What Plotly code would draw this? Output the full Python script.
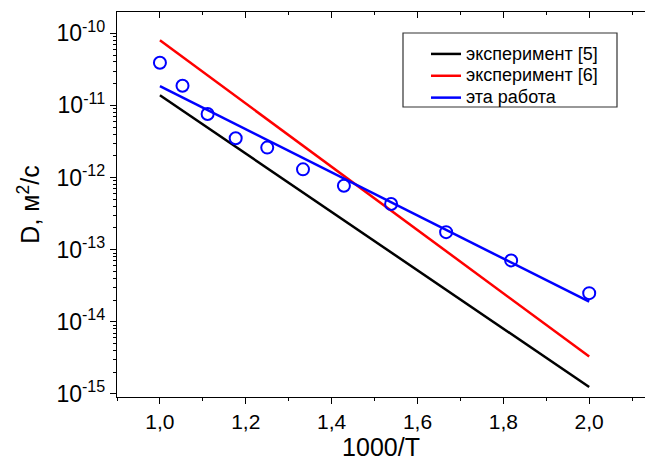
import plotly.graph_objects as go

# Data
x_line = [1.0, 2.0]
black_line = [1.38e-11, 1.25e-15]   # эксперимент [5]
red_line = [8.0e-11, 3.3e-15]       # эксперимент [6]
blue_line = [1.85e-11, 1.9e-14]     # эта работа

x_pts = [1.0, 1.0526, 1.1111, 1.1765, 1.25, 1.3333, 1.4286, 1.5385, 1.6667, 1.8182, 2.0]
y_pts = [3.9e-11, 1.87e-11, 7.6e-12, 3.5e-12, 2.6e-12, 1.3e-12, 7.7e-13, 4.3e-13, 1.75e-13, 7.1e-14, 2.5e-14]

names = ["эксперимент [5]", "эксперимент [6]", "эта работа"]
y_tickvals = [1e-15, 1e-14, 1e-13, 1e-12, 1e-11, 1e-10]
y_ticktext = ["10<sup>-15</sup>", "10<sup>-14</sup>", "10<sup>-13</sup>",
              "10<sup>-12</sup>", "10<sup>-11</sup>", "10<sup>-10</sup>"]
y_minor_vals = [m * 10.0 ** e for e in range(-16, -9) for m in range(2, 10)]

FONT = "Liberation Sans, Arial, sans-serif"
W, H = 645, 462
L, R, T, B = 117, 0, 12, 65
pw, ph = W - L - R, H - T - B
XR = [0.9, 2.13]


def lg(name):
    return '<span style="font-size:18px">' + name + '</span>'


fig = go.Figure()
fig.add_trace(go.Scatter(x=x_line, y=black_line, mode="lines", name=lg(names[0]),
                         line=dict(color="black", width=2.5)))
fig.add_trace(go.Scatter(x=x_line, y=red_line, mode="lines", name=lg(names[1]),
                         line=dict(color="#ff0000", width=2.5)))
fig.add_trace(go.Scatter(x=x_line, y=blue_line, mode="lines", name=lg(names[2]),
                         line=dict(color="#0000ff", width=2.5)))
fig.add_trace(go.Scatter(x=x_pts, y=y_pts, mode="markers", showlegend=False,
                         marker=dict(symbol="circle-open", size=12, color="#0000ff",
                                     line=dict(width=2, color="#0000ff"))))
# invisible trace to anchor the top axis
fig.add_trace(go.Scatter(x=x_line, y=black_line, xaxis="x2", yaxis="y", mode="markers",
                         showlegend=False, hoverinfo="skip",
                         marker=dict(size=1, color="rgba(0,0,0,0)")))


def px2paper(x, y):
    return (x - L) / pw, 1 - (y - T) / ph


bx0, by0 = px2paper(403, 33)
bx1, by1 = px2paper(617, 107)
lx, ly = px2paper(426, 38)

fig.update_layout(
    width=W, height=H,
    margin=dict(l=L, r=R, t=T, b=B, autoexpand=False),
    paper_bgcolor="white", plot_bgcolor="white",
    separators=",.",
    font=dict(family=FONT, color="black"),
    showlegend=True,
    legend=dict(x=lx, y=ly, xanchor="left", yanchor="top",
                bgcolor="rgba(0,0,0,0)", borderwidth=0,
                font=dict(size=14.5, family=FONT), tracegroupgap=0),
    xaxis=dict(range=XR, tick0=0, dtick=0.2, tickformat=".1f", automargin=False,
               showgrid=False, zeroline=False, showline=True,
               linecolor="black", linewidth=1.3,
               ticks="outside", ticklen=6, tickwidth=1.3, tickcolor="black",
               minor=dict(dtick=0.1, tick0=0, ticks="outside", ticklen=3,
                          tickwidth=1.2, tickcolor="black", showgrid=False),
               tickfont=dict(size=21, family=FONT),
               title=dict(text="1000/T", font=dict(size=25, family=FONT), standoff=0)),
    xaxis2=dict(overlaying="x", side="top", anchor="y", range=XR, automargin=False,
                tick0=0, dtick=0.2, showticklabels=False,
                showgrid=False, zeroline=False, showline=True,
                linecolor="black", linewidth=1.3,
                ticks="inside", ticklen=6, tickwidth=1.3, tickcolor="black",
                minor=dict(dtick=0.1, tick0=0, ticks="inside", ticklen=3,
                           tickwidth=1.2, tickcolor="black", showgrid=False)),
    yaxis=dict(type="log", range=[-15.042, -9.705], automargin=False,
               tickvals=y_tickvals, ticktext=y_ticktext,
               showgrid=False, zeroline=False, showline=True,
               linecolor="black", linewidth=1.3,
               ticks="outside", ticklen=6, tickwidth=1.3, tickcolor="black",
               minor=dict(ticks="outside", ticklen=3, tickwidth=1.2,
                          tickcolor="black", tickvals=y_minor_vals, showgrid=False),
               tickfont=dict(size=23, family=FONT),
               title=dict(text="D, м<sup>2</sup>/с", font=dict(size=25, family=FONT), standoff=9)),
    shapes=[dict(type="rect", xref="paper", yref="paper",
                 x0=bx0, x1=bx1, y0=by1, y1=by0,
                 line=dict(color="#333333", width=1.2), fillcolor="rgba(0,0,0,0)")],
)

fig.write_html("out.html", config={"displayModeBar": False},
               post_script="document.body.style.margin='0';document.body.style.overflow='hidden';")
